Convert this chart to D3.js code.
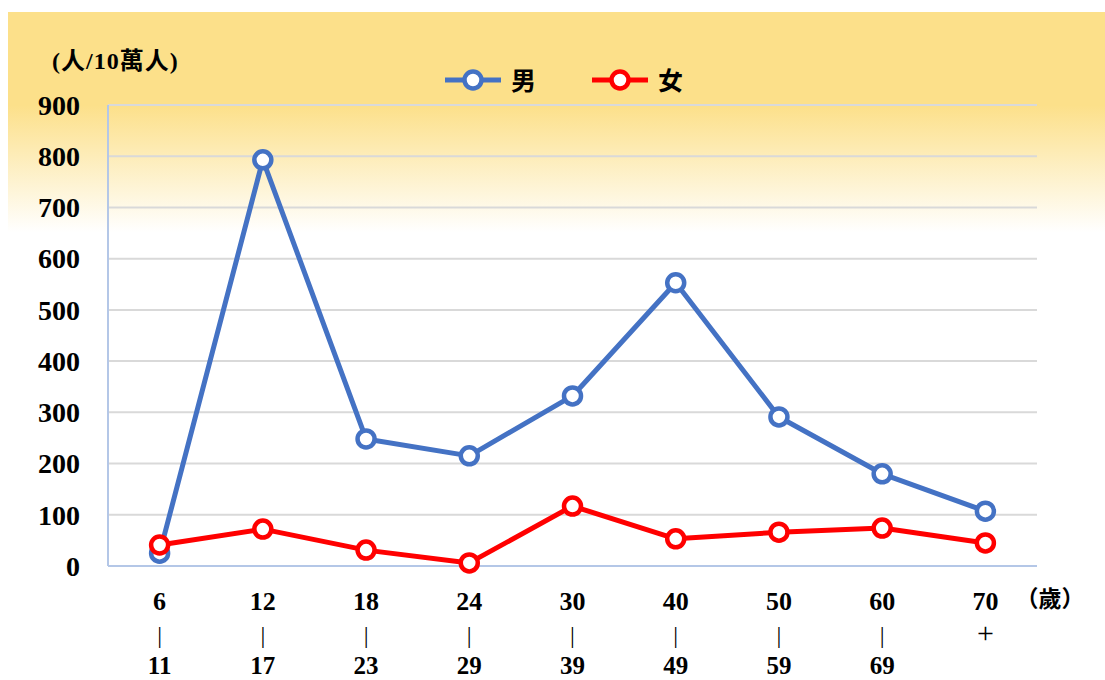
<!DOCTYPE html>
<html>
<head>
<meta charset="utf-8">
<script src="https://cdn.jsdelivr.net/npm/d3@7"></script>
<style>
  body { margin: 0; background: #fff; }
  text { font-family: "Liberation Serif", "Noto Sans CJK TC", serif; }
</style>
</head>
<body>
<div id="chart"></div>
<script>
var ageFrom = ['6', '12', '18', '24', '30', '40', '50', '60', '70'];
var ageTo = ['11', '17', '23', '29', '39', '49', '59', '69', '+'];
var maleValues = [25, 793, 248, 215, 332, 553, 291, 180, 107];
var femaleValues = [41, 72, 31, 6, 117, 53, 66, 74, 45];
var yTicks = [0, 100, 200, 300, 400, 500, 600, 700, 800, 900];

var width = 1105, height = 680;
var plotLeft = 108, plotRight = 1037, plotTop = 105, plotBottom = 566;

var svg = d3.select('#chart').append('svg')
  .attr('width', width)
  .attr('height', height);

// yellow fade background
var defs = svg.append('defs');
var grad = defs.append('linearGradient')
  .attr('id', 'bg')
  .attr('x1', 0).attr('y1', 0).attr('x2', 0).attr('y2', 1);
grad.append('stop').attr('offset', '0%').attr('stop-color', '#fce08a');
grad.append('stop').attr('offset', '14%').attr('stop-color', '#fce08a');
grad.append('stop').attr('offset', '33%').attr('stop-color', '#ffffff');
grad.append('stop').attr('offset', '100%').attr('stop-color', '#ffffff');

svg.append('rect')
  .attr('x', 8).attr('y', 12)
  .attr('width', width - 8).attr('height', height - 12)
  .attr('fill', 'url(#bg)');

var x = d3.scaleBand().domain(ageFrom).range([plotLeft, plotRight]);
var y = d3.scaleLinear().domain([0, 900]).range([plotBottom, plotTop]);

// gridlines
svg.append('g').selectAll('line').data(yTicks.slice(1))
  .enter().append('line')
  .attr('x1', plotLeft).attr('x2', plotRight)
  .attr('y1', function (d) { return y(d); })
  .attr('y2', function (d) { return y(d); })
  .attr('stroke', '#d9d9d9')
  .attr('stroke-width', 2);

// axes lines
svg.append('line')
  .attr('x1', plotLeft).attr('x2', plotLeft)
  .attr('y1', y(900)).attr('y2', y(0))
  .attr('stroke', '#b4c7e7').attr('stroke-width', 2);
svg.append('line')
  .attr('x1', plotLeft).attr('x2', plotRight)
  .attr('y1', y(0)).attr('y2', y(0))
  .attr('stroke', '#b4c7e7').attr('stroke-width', 2);

// y tick labels
svg.append('g').selectAll('text').data(yTicks)
  .enter().append('text')
  .attr('x', 80)
  .attr('y', function (d) { return y(d); })
  .attr('dy', '0.35em')
  .attr('text-anchor', 'end')
  .attr('font-size', 28)
  .attr('font-weight', 'bold')
  .attr('fill', '#000')
  .text(function (d) { return d; });

// x labels: from / | / to
var xl = svg.append('g').selectAll('g').data(ageFrom)
  .enter().append('g')
  .attr('transform', function (d) { return 'translate(' + (x(d) + x.bandwidth() / 2) + ',0)'; });
xl.append('text')
  .attr('y', 610).attr('text-anchor', 'middle')
  .attr('font-size', 26).attr('font-weight', 'bold')
  .text(function (d) { return d; });
xl.append('text')
  .attr('y', 643).attr('text-anchor', 'middle')
  .attr('font-size', function (d, i) { return ageTo[i] === '+' ? 30 : 24; })
  .attr('fill', '#000')
  .text(function (d, i) { return ageTo[i] === '+' ? '+' : '|'; });
xl.append('text')
  .attr('y', 674).attr('text-anchor', 'middle')
  .attr('font-size', 25).attr('font-weight', 'bold')
  .text(function (d, i) { return ageTo[i] === '+' ? '' : ageTo[i]; });

svg.append('text')
  .attr('x', 1050).attr('y', 607)
  .attr('text-anchor', 'middle')
  .attr('font-size', 23).attr('font-weight', 'bold')
  .text('（歲）');

svg.append('text')
  .attr('x', 52).attr('y', 69)
  .attr('font-size', 24).attr('font-weight', 'bold')
  .attr('letter-spacing', 1)
  .text('(人/10萬人)');

// series
var series = [
  { name: '男', values: maleValues, color: '#4472c4' },
  { name: '女', values: femaleValues, color: '#ff0000' }
];

var line = d3.line()
  .x(function (d, i) { return x(ageFrom[i]) + x.bandwidth() / 2; })
  .y(function (d) { return y(d); });

series.forEach(function (s) {
  svg.append('path')
    .datum(s.values)
    .attr('d', line)
    .attr('fill', 'none')
    .attr('stroke', s.color)
    .attr('stroke-width', 5)
    .attr('stroke-linejoin', 'round');
  svg.append('g').selectAll('circle').data(s.values)
    .enter().append('circle')
    .attr('cx', function (d, i) { return x(ageFrom[i]) + x.bandwidth() / 2; })
    .attr('cy', function (d) { return y(d); })
    .attr('r', 8.5)
    .attr('fill', '#fff')
    .attr('stroke', s.color)
    .attr('stroke-width', 4.5);
});

// legend
var legendX = [445, 592];
var lg = svg.append('g').selectAll('g').data(series)
  .enter().append('g')
  .attr('transform', function (d, i) { return 'translate(' + legendX[i] + ',80)'; });
lg.append('line')
  .attr('x1', 0).attr('x2', 56)
  .attr('stroke', function (d) { return d.color; })
  .attr('stroke-width', 5);
lg.append('circle')
  .attr('cx', 28).attr('r', 8.5)
  .attr('fill', '#fff')
  .attr('stroke', function (d) { return d.color; })
  .attr('stroke-width', 4.5);
lg.append('text')
  .attr('x', 66).attr('dy', '0.38em')
  .attr('font-size', 25).attr('font-weight', 'bold')
  .text(function (d) { return d.name; });
</script>
</body>
</html>
